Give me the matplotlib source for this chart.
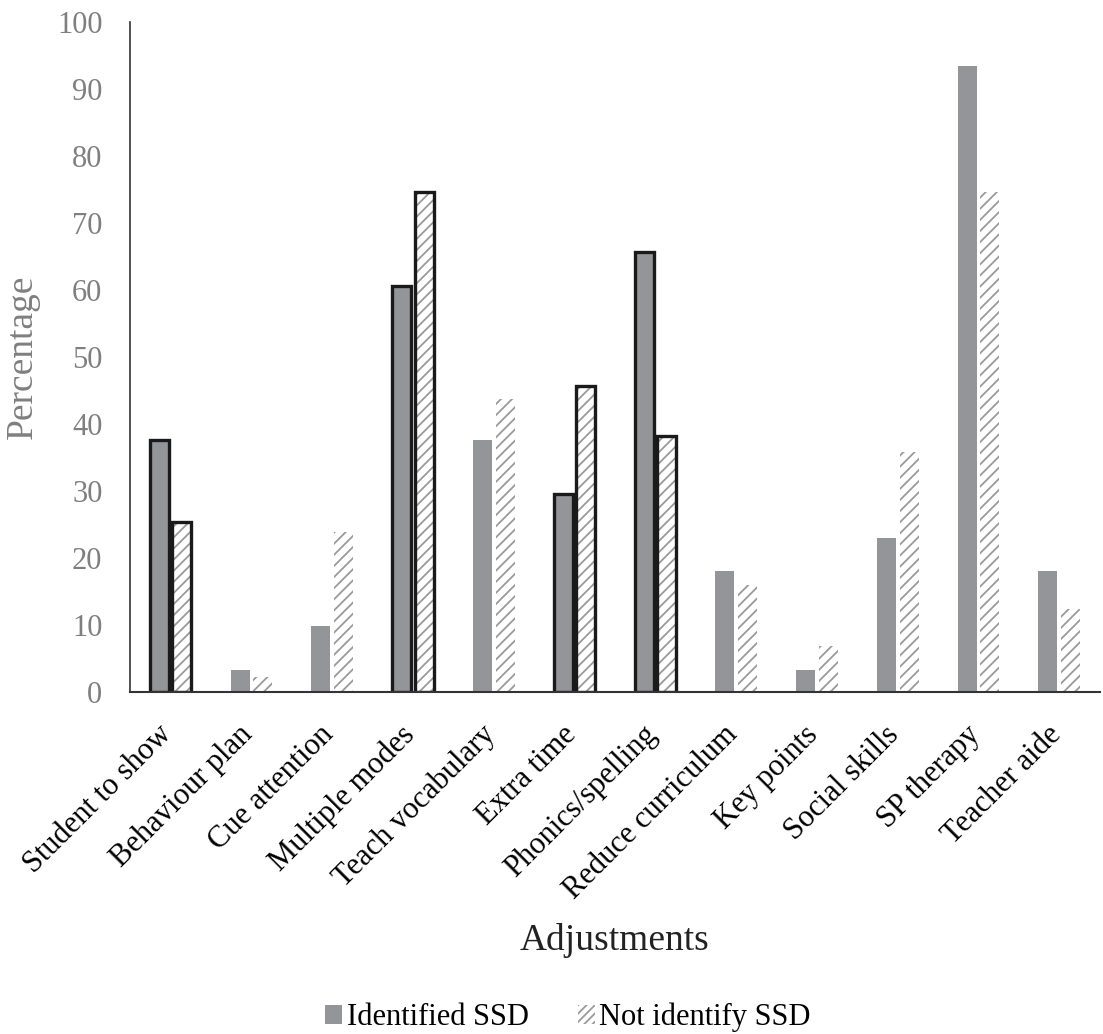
import matplotlib
matplotlib.use('Agg')
import matplotlib.pyplot as plt
import matplotlib.transforms as mtransforms
from matplotlib.patches import Patch
import numpy as np

plt.rcParams['font.family'] = ['Liberation Serif', 'DejaVu Serif']
plt.rcParams['hatch.color'] = '#9a9a9a'
plt.rcParams['hatch.linewidth'] = 1.3

adjustments = ['Student to show', 'Behaviour plan', 'Cue attention', 'Multiple modes',
               'Teach vocabulary', 'Extra time', 'Phonics/spelling', 'Reduce curriculum',
               'Key points', 'Social skills', 'SP therapy', 'Teacher aide']
identified = [37.6, 3.2, 9.8, 60.6, 37.6, 29.5, 65.6, 18.0, 3.2, 23.0, 93.4, 18.0]
not_identified = [25.4, 2.2, 23.8, 74.6, 43.7, 45.7, 38.2, 16.0, 6.9, 35.8, 74.6, 12.3]
# categories with a significant difference get a heavy outline
highlight = [True, False, False, True, False, True, True, False, False, False, False, False]

grey = '#939598'
x = np.arange(len(adjustments))
w = 0.235
off = 0.14

fig = plt.figure(figsize=(11.03, 10.34), dpi=100)
ax = fig.add_axes([0.118, 0.331, 0.879, 0.648])

ax.bar(x - off, identified, w, color=grey, edgecolor='none')
ax.bar(x + off, not_identified, w, color='white', edgecolor='#9a9a9a', linewidth=0, hatch='///')

for i, h in enumerate(highlight):
    if h:
        ax.bar(x[i] - off, identified[i], w, fill=False, edgecolor='#1a1a1a', linewidth=2.4)
        ax.bar(x[i] + off, not_identified[i], w, fill=False, edgecolor='#1a1a1a', linewidth=2.4)

ax.set_xlim(-0.5, len(adjustments) - 0.5)
ax.set_ylim(0, 100)
ax.set_yticks(range(0, 101, 10))
ax.tick_params(axis='y', length=0, labelsize=22, labelcolor='#7f7f7f', pad=20)
ax.tick_params(axis='x', length=0, pad=6)
ax.set_xticks(x)
ax.set_xticklabels(adjustments, rotation=45, ha='right', rotation_mode='anchor', fontsize=22)
shift = mtransforms.ScaledTranslation(-0.13, -0.2, fig.dpi_scale_trans)
for lbl in ax.get_xticklabels():
    lbl.set_transform(lbl.get_transform() + shift)

for s in ['top', 'right']:
    ax.spines[s].set_visible(False)
ax.spines['left'].set_color('#333333')
ax.spines['left'].set_linewidth(1.2)
ax.spines['bottom'].set_color('#333333')
ax.spines['bottom'].set_linewidth(1.5)

ax.set_ylabel('Percentage', fontsize=27, color='#7f7f7f', labelpad=12)
fig.text(0.557, 0.09, 'Adjustments', fontsize=27, ha='center', va='center', color='#222222')

handles = [Patch(facecolor=grey, edgecolor='none', label='Identified SSD'),
           Patch(facecolor='white', edgecolor='#9a9a9a', linewidth=0, hatch='////', label='Not identify SSD')]
fig.legend(handles=handles, loc='center', bbox_to_anchor=(0.515, 0.016), ncol=2, frameon=False,
           fontsize=22, handlelength=0.55, handleheight=0.55, handletextpad=0.15, columnspacing=1.6)

fig.savefig('out.png', dpi=100)
